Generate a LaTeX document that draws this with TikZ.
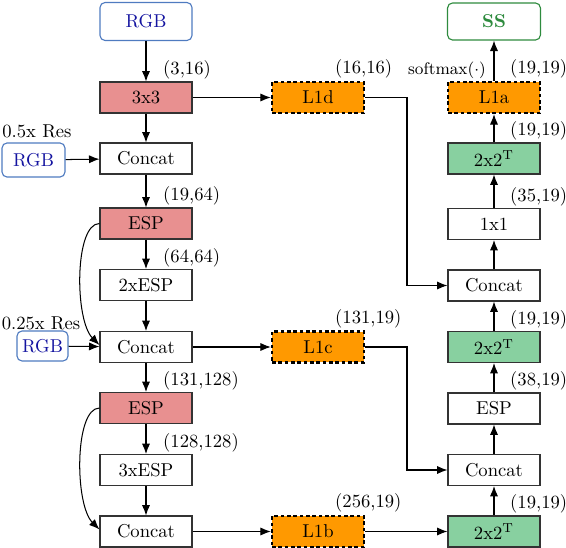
\documentclass[tikz,border=0pt]{standalone}
\usetikzlibrary{arrows.meta,calc}
\definecolor{salmon}{HTML}{E89090}
\definecolor{mgreen}{HTML}{88D0A0}
\definecolor{morange}{HTML}{FF9900}
\definecolor{rgbborder}{HTML}{4F7BC0}
\definecolor{rgbtext}{HTML}{1414A0}
\definecolor{ssgreen}{HTML}{2E8B3E}
\begin{document}
\begin{tikzpicture}[x=0.537pt,y=-0.537pt,
  box/.style={draw=black!80, line width=0.6pt, minimum width=49.4pt, minimum height=16.6pt, inner sep=0pt},
  redbox/.style={box, fill=salmon},
  greenbox/.style={box, fill=mgreen},
  lbox/.style={box, draw=black, fill=morange, line width=1.3pt, dash pattern=on 1.9pt off 1.5pt},
  inbox/.style={draw=rgbborder, line width=0.6pt, rounded corners=2.7pt, text=rgbtext, inner sep=0pt},
  outbox/.style={draw=ssgreen, line width=0.6pt, rounded corners=2.7pt, text=ssgreen, font=\bfseries, inner sep=0pt, minimum width=49.9pt, minimum height=19.9pt},
  dim/.style={anchor=south west, inner sep=1pt},
  conn/.style={-{Latex[length=5.6pt,width=4.4pt]}, line width=0.55pt, black}
]
\useasboundingbox (0,0) rectangle (566,548);
% left column
\node[inbox, minimum width=49.4pt, minimum height=20.4pt] (rgb) at (146,21.5) {RGB};
\node[redbox] (c3) at (146,97.5) {3x3};
\node[box] (cat1) at (146,158.5) {Concat};
\node[redbox] (esp1) at (146,223.5) {ESP};
\node[box] (esp2x) at (146,285) {2xESP};
\node[box] (cat2) at (146,347) {Concat};
\node[redbox] (esp2) at (146,408) {ESP};
\node[box] (esp3x) at (146,470) {3xESP};
\node[box] (cat3) at (146,531.5) {Concat};
% side inputs
\node[inbox, minimum width=33.8pt, minimum height=18.3pt] (rgbh) at (33.5,160) {RGB};
\node (lh) at (37,131) {0.5x Res};
\node[inbox, minimum width=27.4pt, minimum height=16.1pt] (rgbq) at (42.5,346) {RGB};
\node (lq) at (41,323.5) {0.25x Res};
% middle column
\node[lbox] (l1d) at (318,97.5) {L1d};
\node[lbox] (l1c) at (318,347) {L1c};
\node[lbox] (l1b) at (318,531.5) {L1b};
% right column
\node[outbox] (ss) at (494,21.5) {SS};
\node[lbox] (l1a) at (494,97.5) {L1a};
\node[greenbox] (g1) at (494,158.5) {2x2$^{\mathrm{T}}$};
\node[box] (one) at (494,224) {1x1};
\node[box] (catr1) at (494,285.5) {Concat};
\node[greenbox] (g2) at (494,347) {2x2$^{\mathrm{T}}$};
\node[box] (espr) at (494,408.5) {ESP};
\node[box] (catr2) at (494,470) {Concat};
\node[greenbox] (g3) at (494,531.5) {2x2$^{\mathrm{T}}$};
\coordinate (bx) at (407,0);
% dimension labels
\node[dim] (d1) at ($(c3.north)+(15,0)$) {(3,16)};
\node[dim] (d2) at ($(esp1.north)+(15,0)$) {(19,64)};
\node[dim] (d3) at ($(esp2x.north)+(15,0)$) {(64,64)};
\node[dim] (d4) at ($(esp2.north)+(15,0)$) {(131,128)};
\node[dim] (d5) at ($(esp3x.north)+(15,0)$) {(128,128)};
\node[dim] (d6) at ($(l1d.north)+(15,0)$) {(16,16)};
\node[dim] (d7) at ($(l1c.north)+(15,0)$) {(131,19)};
\node[dim] (d8) at ($(l1b.north)+(15,0)$) {(256,19)};
\node[dim] (d9) at ($(l1a.north)+(14,0)$) {(19,19)};
\node[dim] (d10) at ($(g1.north)+(14,0)$) {(19,19)};
\node[dim] (d11) at ($(one.north)+(14,0)$) {(35,19)};
\node[dim] (d12) at ($(g2.north)+(14,0)$) {(19,19)};
\node[dim] (d13) at ($(espr.north)+(14,0)$) {(38,19)};
\node[dim] (d14) at ($(g3.north)+(14,0)$) {(19,19)};
\node[anchor=south east, inner sep=1pt, font=\small] (sm) at ($(l1a.north)+(-6,0)$) {softmax($\cdot$)};
% connectors left
\draw[conn] (rgb) -- (c3);
\draw[conn] (c3) -- (cat1);
\draw[conn] (c3) -- (l1d);
\draw[conn] (rgbh) -- (cat1);
\draw[conn] (cat1) -- (esp1);
\draw[conn] (esp1) -- (esp2x);
\draw[conn] (esp2x) -- (cat2);
\draw[conn] (esp1.west) .. controls ($(esp1.west)+(-25,0)$) and ($(cat2.west)+(-25,-27)$) .. ($(cat2.west)+(0,-2)$);
\draw[conn] (rgbq) -- (cat2);
\draw[conn] (cat2) -- (l1c);
\draw[conn] (cat2) -- (esp2);
\draw[conn] (esp2) -- (esp3x);
\draw[conn] (esp3x) -- (cat3);
\draw[conn] (esp2.west) .. controls ($(esp2.west)+(-25,0)$) and ($(cat3.west)+(-25,-27)$) .. ($(cat3.west)+(0,-2)$);
\draw[conn] (cat3) -- (l1b);
\draw[conn] (l1b) -- (g3);
% connectors right
\draw[conn] (g3) -- (catr2);
\draw[conn] (catr2) -- (espr);
\draw[conn] (espr) -- (g2);
\draw[conn] (g2) -- (catr1);
\draw[conn] (catr1) -- (one);
\draw[conn] (one) -- (g1);
\draw[conn] (g1) -- (l1a);
\draw[conn] (l1a) -- (ss);
\draw[conn] (l1d.east) -- (l1d.east -| bx) |- (catr1.west);
\draw[conn] (l1c.east) -- (l1c.east -| bx) |- (catr2.west);
\end{tikzpicture}
\end{document}
